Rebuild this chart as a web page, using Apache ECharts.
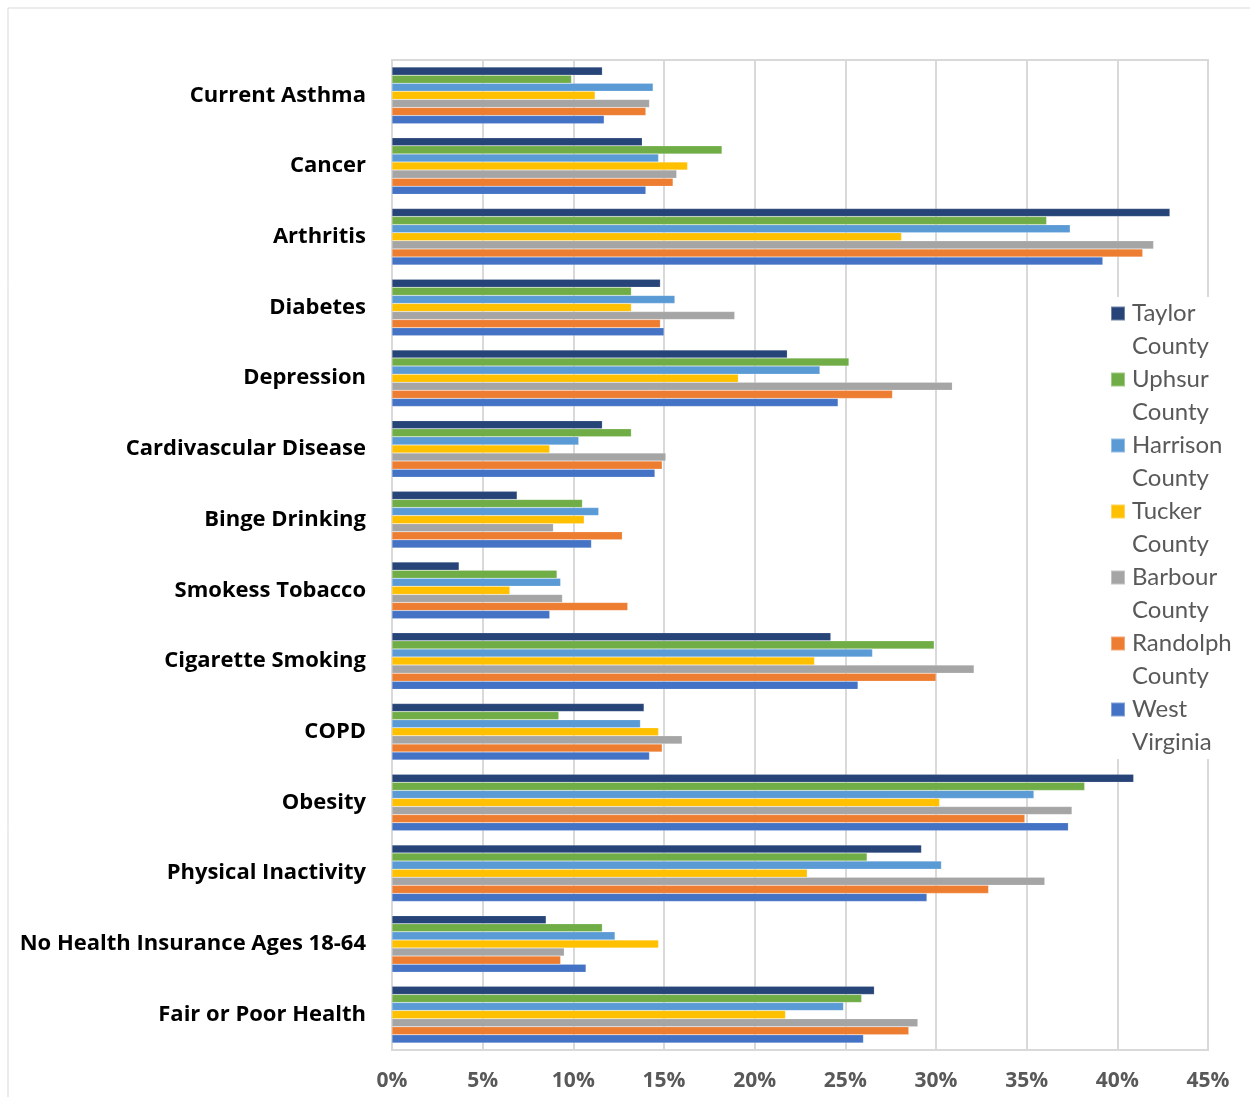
<!DOCTYPE html>
<html>
<head>
<meta charset="utf-8">
<script src="https://cdn.jsdelivr.net/npm/echarts@6/dist/echarts.min.js"></script>
<style>
  html, body { margin: 0; padding: 0; background: #fff; }
  #main { width: 1250px; height: 1097px; }
</style>
</head>
<body>
<div id="main"></div>
<script>
// categories, top to bottom
var categories = ['Current Asthma', 'Cancer', 'Arthritis', 'Diabetes', 'Depression',
  'Cardivascular Disease', 'Binge Drinking', 'Smokess Tobacco', 'Cigarette Smoking',
  'COPD', 'Obesity', 'Physical Inactivity', 'No Health Insurance Ages 18-64', 'Fair or Poor Health'];

var seriesNames = ['Taylor County', 'Uphsur County', 'Harrison County', 'Tucker County',
  'Barbour County', 'Randolph County', 'West Virginia'];

var colors = ['#264478', '#70AD47', '#5B9BD5', '#FFC000', '#A5A5A5', '#ED7D31', '#4472C4'];

var taylor   = [11.6, 13.8, 42.9, 14.8, 21.8, 11.6, 6.9, 3.7, 24.2, 13.9, 40.9, 29.2, 8.5, 26.6];
var uphsur   = [9.9, 18.2, 36.1, 13.2, 25.2, 13.2, 10.5, 9.1, 29.9, 9.2, 38.2, 26.2, 11.6, 25.9];
var harrison = [14.4, 14.7, 37.4, 15.6, 23.6, 10.3, 11.4, 9.3, 26.5, 13.7, 35.4, 30.3, 12.3, 24.9];
var tucker   = [11.2, 16.3, 28.1, 13.2, 19.1, 8.7, 10.6, 6.5, 23.3, 14.7, 30.2, 22.9, 14.7, 21.7];
var barbour  = [14.2, 15.7, 42.0, 18.9, 30.9, 15.1, 8.9, 9.4, 32.1, 16.0, 37.5, 36.0, 9.5, 29.0];
var randolph = [14.0, 15.5, 41.4, 14.8, 27.6, 14.9, 12.7, 13.0, 30.0, 14.9, 34.9, 32.9, 9.3, 28.5];
var westVa   = [11.7, 14.0, 39.2, 15.0, 24.6, 14.5, 11.0, 8.7, 25.7, 14.2, 37.3, 29.5, 10.7, 26.0];

var allData = [taylor, uphsur, harrison, tucker, barbour, randolph, westVa];

var myChart = echarts.init(document.getElementById('main'));

var series = [];
for (var i = 0; i < seriesNames.length; i++) {
  series.push({
    name: seriesNames[i],
    type: 'bar',
    barGap: '0%',
    barCategoryGap: '20%',
    itemStyle: {
      color: colors[i],
      borderColor: 'rgba(255,255,255,0.35)',
      borderWidth: 0.5
    },
    data: allData[i]
  });
}

// square at top of a taller box so the icon sits on the first text line
var legendIcon = 'path://M0,0h14v14h-14z M0,46.99h0.01v0.01h-0.01z';

option = {
  animation: false,
  color: colors,
  graphic: [{
    type: 'rect',
    shape: { x: 8, y: 8, width: 1260, height: 1120 },
    style: { fill: 'none', stroke: '#d9d9d9', lineWidth: 1 },
    z: -10
  }],
  legend: {
    orient: 'vertical',
    left: 1100,
    top: 297,
    padding: [0, 8, 0, 10],
    backgroundColor: '#fff',
    itemWidth: 14,
    itemHeight: 47,
    itemGap: 0,
    icon: legendIcon,
    formatter: function (name) {
      return name.replace(' ', '\n');
    },
    textStyle: {
      fontFamily: 'Lato',
      fontSize: 24,
      lineHeight: 33,
      color: '#595959',
      padding: [0, 0, 0, 2]
    },
    data: seriesNames
  },
  grid: {
    left: 392,
    right: 42,
    top: 60,
    bottom: 47,
    show: true,
    borderColor: '#d9d9d9',
    borderWidth: 2
  },
  xAxis: {
    type: 'value',
    min: 0,
    max: 45,
    interval: 5,
    axisLine: { show: false },
    axisTick: { show: false },
    splitLine: { lineStyle: { color: '#d9d9d9', width: 2 } },
    axisLabel: {
      formatter: '{value}%',
      fontFamily: 'Open Sans',
      fontWeight: 'bold',
      fontSize: 21,
      color: '#595959',
      margin: 21
    }
  },
  yAxis: {
    type: 'category',
    inverse: true,
    data: categories,
    axisLine: { lineStyle: { color: '#d9d9d9', width: 2 } },
    axisTick: { show: false },
    axisLabel: {
      fontFamily: 'Open Sans',
      fontWeight: 'bold',
      fontSize: 22,
      color: '#000',
      margin: 26,
      padding: [3, 0, 0, 0]
    }
  },
  series: series
};

myChart.setOption(option);
</script>
</body>
</html>
